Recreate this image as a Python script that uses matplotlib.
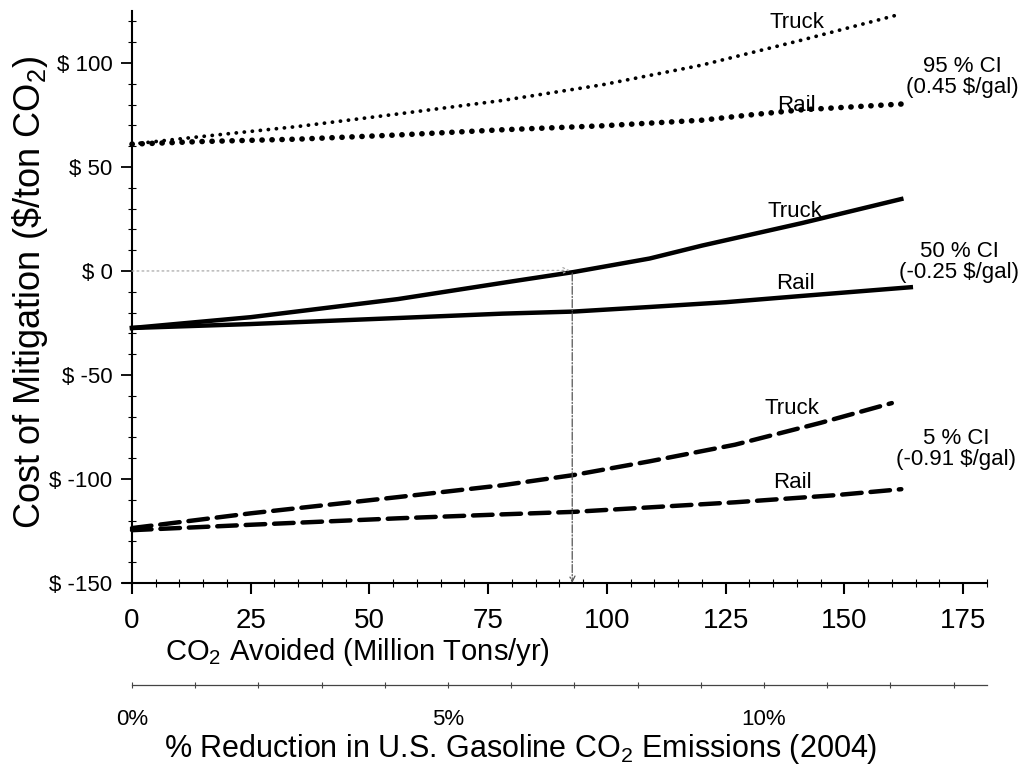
import matplotlib
matplotlib.use("Agg")
import matplotlib.pyplot as plt
from matplotlib.ticker import MultipleLocator

plt.rcParams['font.family'] = ['Liberation Sans', 'DejaVu Sans']
plt.rcParams['mathtext.default'] = 'regular'

NARROW = ['Liberation Sans Narrow', 'Liberation Sans', 'DejaVu Sans']

# CO2 avoided (Mt/yr) and cost of mitigation ($/ton CO2)
truck95_x = [0, 14, 35, 56, 78, 99, 120, 141, 161]
truck95_y = [61, 64.5, 69.5, 75.5, 82, 89.5, 99, 111, 123]
rail95_x = [0, 14, 35, 56, 78, 99, 120, 130, 141, 163]
rail95_y = [61, 62.2, 63.4, 65.4, 67.9, 69.8, 72.5, 75, 77.5, 80.4]

truck50_x = [0, 25, 56, 80, 93, 109, 120, 141, 162]
truck50_y = [-27.4, -22.2, -13.5, -5, -0.5, 6, 12.2, 23, 34.6]
rail50_x = [0, 25, 56, 78, 93, 109, 125, 141, 164]
rail50_y = [-27.4, -25.5, -22.6, -20.5, -19.5, -17.3, -15, -12, -7.8]

truck5_x = [0, 25, 56, 78, 93, 109, 127, 145, 160]
truck5_y = [-123.6, -116.5, -108.7, -103, -98.1, -91.5, -83.5, -73, -63.5]
rail5_x = [0, 25, 56, 78, 93, 127, 148, 162]
rail5_y = [-124.6, -122, -118.9, -117, -115.8, -111.2, -107.8, -104.9]

# where the 50% truck curve crosses zero cost
x_cross = 92.7

# labels: (text, x, y)
curve_labels = [("Truck", 140.0, 119.7), ("Rail", 140.0, 79.8),
                ("Truck", 139.6, 28.8), ("Rail", 139.6, -5.8),
                ("Truck", 139.0, -65.9), ("Rail", 139.0, -101.9)]
ci_labels = [("95 % CI\n(0.45 \\$/gal)", 174.9, 93.2),
             ("50 % CI\n(-0.25 \\$/gal)", 174.2, 4.4),
             ("5 % CI\n(-0.91 \\$/gal)", 173.5, -85.5)]

y_ticks = [-150, -100, -50, 0, 50, 100]
y_ticklabels = ["$ -150", "$ -100", "$ -50", "$ 0", "$ 50", "$ 100"]
x_ticks = [0, 25, 50, 75, 100, 125, 150, 175]
pct_ticks = [0, 5, 10]
pct_ticklabels = ["0%", "5%", "10%"]

W, H = 1027, 770
fig = plt.figure(figsize=(W / 100, H / 100), dpi=100)
ax = fig.add_axes([122.5 / W, 1 - 583 / H, 864.3 / W, 572 / H])
ax.set_xlim(-2, 180)
ax.set_ylim(-150, 125)

ax.plot(truck95_x, truck95_y, color='black', lw=2.7,
        linestyle=(0, (0.05, 2.1)), dash_capstyle='round')
ax.plot(rail95_x, rail95_y, color='black', lw=4.0,
        linestyle=(0, (0.05, 1.75)), dash_capstyle='round')
ax.plot(truck50_x, truck50_y, color='black', lw=3.2)
ax.plot(rail50_x, rail50_y, color='black', lw=3.2)
ax.plot(truck5_x, truck5_y, color='black', lw=3.2,
        linestyle=(0, (4.4, 2.0)), dash_capstyle='round')
ax.plot(rail5_x, rail5_y, color='black', lw=3.2,
        linestyle=(0, (4.4, 2.0)), dash_capstyle='round')

# guide lines to the break-even point
ax.annotate("", xy=(x_cross - 0.5, 0.3), xytext=(0, 0),
            arrowprops=dict(arrowstyle='->', color='#aaaaaa', lw=0.9,
                            linestyle=(0, (1.5, 2.5)), shrinkA=0, shrinkB=0))
ax.annotate("", xy=(x_cross, -150), xytext=(x_cross, -1),
            arrowprops=dict(arrowstyle='->', color='#555555', lw=0.9,
                            linestyle='-.', shrinkA=0, shrinkB=0))

for txt, x, y in curve_labels:
    ax.text(x, y, txt, fontsize=16, ha='center', va='center')
for txt, x, y in ci_labels:
    ax.text(x, y, txt, fontsize=16, ha='center', va='center',
            linespacing=1.0)

for s in ['top', 'right']:
    ax.spines[s].set_visible(False)
ax.spines['left'].set_position(('data', 0))
ax.spines['left'].set_linewidth(1.5)
ax.spines['bottom'].set_linewidth(1.5)

ax.set_yticks(y_ticks)
ax.set_yticklabels(y_ticklabels, fontsize=16)
ax.yaxis.set_minor_locator(MultipleLocator(10))
ax.tick_params(axis='y', which='major', direction='out', length=8, width=1.3, pad=6)
ax.tick_params(axis='y', which='minor', direction='inout', length=6, width=0.8)

ax.set_xticks(x_ticks)
ax.set_xticklabels([str(t) for t in x_ticks], fontsize=20, family=NARROW)
ax.xaxis.set_minor_locator(MultipleLocator(5))
ax.tick_params(axis='x', which='major', direction='out', length=8, width=1.5, pad=10)
ax.tick_params(axis='x', which='minor', direction='inout', length=6, width=0.8)

ax.set_ylabel("Cost of Mitigation (\\$/ton CO$_{2}$)", fontsize=26)
ax.yaxis.set_label_coords(50 / W, 1 - 292 / H, transform=fig.transFigure)
ax.set_xlabel("CO$_{2}$ Avoided (Million Tons/yr)", fontsize=21,
              family=NARROW, ha='left', va='top')
ax.xaxis.set_label_coords(165 / W, 1 - 636 / H, transform=fig.transFigure)

# secondary scale: % of 2004 U.S. gasoline CO2 emissions
ax2 = fig.add_axes([132 / W, 1 - 685 / H, 855 / W, 0.001])
ax2.set_xlim(0, 13.53)
ax2.set_ylim(0, 1)
for s in ['top', 'right', 'left']:
    ax2.spines[s].set_visible(False)
ax2.spines['bottom'].set_linewidth(0.9)
ax2.spines['bottom'].set_color('#444444')
ax2.set_yticks([])
ax2.set_xticks(pct_ticks)
ax2.set_xticklabels(pct_ticklabels, fontsize=16)
ax2.xaxis.set_minor_locator(MultipleLocator(1))
ax2.tick_params(axis='x', which='both', direction='inout', length=4,
                width=0.8, color='#444444', pad=15)
ax2.set_xlabel("% Reduction in U.S. Gasoline CO$_{2}$ Emissions (2004)",
               fontsize=22, va='top')
ax2.xaxis.set_label_coords(521 / W, 1 - 732 / H, transform=fig.transFigure)
ax2.patch.set_visible(False)

fig.savefig("out.png", dpi=100)
